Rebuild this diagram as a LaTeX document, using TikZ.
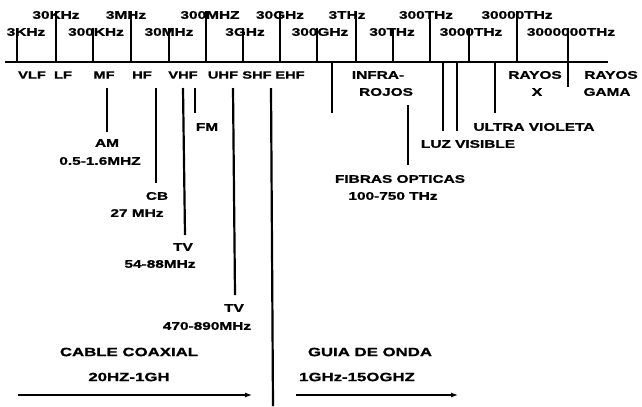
\documentclass[tikz,border=0pt]{standalone}
\usepackage{fontspec}
\setmainfont[FakeStretch=1.4, BoldFeatures={FakeBold=1.2}]{Liberation Sans}
\usetikzlibrary{arrows.meta}
\begin{document}
\begin{tikzpicture}[x=1bp,y=-1bp,
  lbl/.style={font=\bfseries\fontsize{11bp}{12bp}\selectfont, inner sep=0pt, anchor=center},
  band/.style={font=\bfseries\fontsize{10.5bp}{12bp}\selectfont, inner sep=0pt, anchor=center},
  big/.style={font=\bfseries\fontsize{12bp}{13bp}\selectfont, inner sep=0pt, anchor=center},
  tickline/.style={line width=2.2bp},
  axisline/.style={line width=1.8bp},
  dropline/.style={line width=2.2bp},
  guide/.style={line width=1.1bp, -{Latex[length=7bp,width=5bp]}}]
\useasboundingbox (0,0) rectangle (642,406);
% axis
\coordinate (axL) at (5,62);
\coordinate (axR) at (608,62);
\draw[axisline] (axL) -- (axR);
% frequency labels, upper row
\node[lbl] (f30k) at (56,15) {30KHz};
\node[lbl] (f3m) at (126,15) {3MHz};
\node[lbl] (f300m) at (210,15) {300MHZ};
\node[lbl] (f30g) at (280,15) {30GHz};
\node[lbl] (f3t) at (347,15) {3THz};
\node[lbl] (f300t) at (426,15) {300THz};
\node[lbl] (f30000t) at (517,15) {30000THz};
% frequency labels, lower row
\node[lbl] (f3k) at (26,32) {3KHz};
\node[lbl] (f300k) at (96,32) {300KHz};
\node[lbl] (f30m) at (169,32) {30MHz};
\node[lbl] (f3g) at (245,32) {3GHz};
\node[lbl] (f300g) at (320,32) {300GHz};
\node[lbl] (f30t) at (392,32) {30THz};
\node[lbl] (f3000t) at (471,32) {3000THz};
\node[lbl] (f3000000t) at (571,32) {3000000THz};
% ticks
\foreach \x in {56,131,206,280,356,430,517} \draw[tickline] (\x,11) -- (\x,62);
\foreach \x in {17,93,169,243,317,393,469} \draw[tickline] (\x,28) -- (\x,62);
\draw[tickline] (568,28) -- (568,87);
% band labels
\node[band] (vlf) at (32,75) {VLF};
\node[band] (lf) at (63,75) {LF};
\node[band] (mf) at (104,75) {MF};
\node[band] (hf) at (142,75) {HF};
\node[band] (vhf) at (183,75) {VHF};
\node[band] (uhf) at (223,75) {UHF};
\node[band] (shf) at (257,75) {SHF};
\node[band] (ehf) at (290,75) {EHF};
\node[lbl] (infra) at (378,75) {INFRA-};
\node[lbl] (rojos) at (386,92) {ROJOS};
\node[lbl] (rayosx) at (535,75) {RAYOS};
\node[lbl] (xx) at (537,92) {X};
\node[lbl] (rayosg) at (611,75) {RAYOS};
\node[lbl] (gama) at (607,92) {GAMA};
% lower-left applications
\draw[dropline] (107,88) -- (107,132);
\node[lbl] (am) at (107,143) {AM};
\node[lbl] (amf) at (100,161) {0.5-1.6MHZ};
\draw[dropline] (156,88) -- (156,183);
\node[lbl] (cb) at (157,196) {CB};
\node[lbl] (cbf) at (137,213) {27 MHz};
\draw[dropline] (183,88) -- (185,235);
\node[lbl] (tv1) at (183,247) {TV};
\node[lbl] (tv1f) at (160,264) {54-88MHz};
\draw[dropline] (195,88) -- (195,113);
\node[lbl] (fm) at (207,127) {FM};
\draw[dropline] (233,88) -- (235,295);
\node[lbl] (tv2) at (234,308) {TV};
\node[lbl] (tv2f) at (207,326) {470-890MHz};
\draw[dropline] (271,88) -- (273,406);
% right side
\draw[dropline] (332,62) -- (332,113);
\draw[dropline] (443,62) -- (443,131);
\draw[dropline] (457,62) -- (457,131);
\draw[dropline] (495,62) -- (495,113);
\draw[dropline] (408,105) -- (408,165);
\node[lbl] (uv) at (534,127) {ULTRA VIOLETA};
\node[lbl] (luz) at (468,144) {LUZ VISIBLE};
\node[lbl] (fib) at (400,179) {FIBRAS OPTICAS};
\node[lbl] (fibf) at (393,196) {100-750 THz};
% bottom guides
\node[big] (coax) at (129,352) {CABLE COAXIAL};
\node[big] (coaxf) at (129,377) {20HZ-1GH};
\node[big] (guia) at (370,352) {GUIA DE ONDA};
\node[big] (guiaf) at (357,377) {1GHz-15OGHZ};
\coordinate (cL) at (18,395);
\coordinate (cR) at (252,395);
\coordinate (gL) at (296,395);
\coordinate (gR) at (458,395);
\draw[guide] (cL) -- (cR);
\draw[guide] (gL) -- (gR);
\end{tikzpicture}
\end{document}
